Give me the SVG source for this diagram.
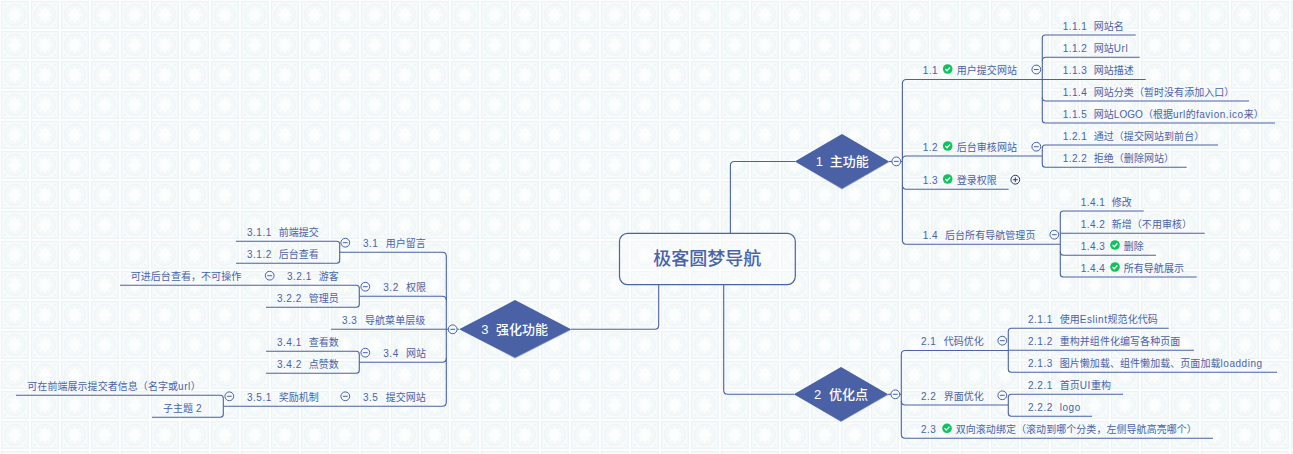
<svg xmlns="http://www.w3.org/2000/svg" width="1293" height="454" viewBox="0 0 1293 454">
<style>
text{font-family:"Liberation Sans","Noto Sans CJK SC",sans-serif;font-size:10px;fill:#4a62a8;letter-spacing:.5px}
.t{letter-spacing:.05px}
.l{letter-spacing:.55px}
.c{fill:none;stroke:#4a62a8;stroke-width:1.1}
.root{font-size:18px;font-weight:500;text-anchor:middle;letter-spacing:0}
.main{font-size:13px;font-weight:500;fill:#fff;letter-spacing:0}
.d{fill:#4a61a6}
.e{fill:#98a6cf}
.rb{fill:rgba(255,255,255,.3);stroke:#4a62a8;stroke-width:1.2}
</style>
<defs>
<pattern id="tile" width="30" height="30" patternUnits="userSpaceOnUse">
<rect width="30" height="30" fill="#fff"/>
<rect x="1.6" y="1.6" width="26.6" height="26.6" fill="#f8fbfb" stroke="#edf4f6" stroke-width="1.4"/>
<circle cx="14.9" cy="14.9" r="10.6" fill="#f3f8f9" stroke="#ecf3f5" stroke-width=".9"/>
<path d="M14.9 5.8l1.8 3.9 4.1-2-2 4.1 3.9 3.1-3.9 3.1 2 4-4.1-2-1.8 3.9-1.8-3.9-4.1 2 2-4-3.9-3.1 3.9-3.1-2-4.1 4.1 2z" fill="#fcfdfd"/>
<path d="M4 4h1.6v1.6H4zM24.2 4h1.6v1.6h-1.6zM4 24.2h1.6v1.6H4zM24.2 24.2h1.6v1.6h-1.6z" fill="#e9f1f3"/>
</pattern>
<g id="m"><circle r="4.4" fill="#f6f9fb" stroke="#4a62a8" stroke-width="1"/><path d="M-2.4 0H2.4" stroke="#4a62a8" stroke-width="1"/></g>
<g id="p"><circle r="4.4" fill="#f6f9fb" stroke="#2f3a5f" stroke-width="1"/><path d="M-2.4 0H2.4M0-2.4V2.4" stroke="#2f3a5f" stroke-width="1"/></g>
<g id="k"><circle r="4.8" fill="#0bc45c"/><path d="M-2.4 0L-.7 1.8 2.4-1.5" fill="none" stroke="#fff" stroke-width="1.3"/></g>
</defs>
<rect width="1293" height="454" fill="url(#tile)"/>
<g id="connectors">
<path class="c" d="M730.4 233V165.5Q730.4 161.5 734.4 161.5H795"/>
<path class="c" d="M723.7 285V390.3Q723.7 394.3 727.7 394.3H794"/>
<path class="c" d="M658.7 285V325.3Q658.7 329.3 654.7 329.3H571"/>
<path class="c" d="M889 161.5H902.4"/>
<path class="c" d="M1145.7 79.5H906.4Q902.4 79.5 902.4 83.5V240.3Q902.4 244.3 906.4 244.3H1060"/>
<path class="c" d="M902.4 160Q902.4 156 906.4 156H1042"/>
<path class="c" d="M902.4 185.3Q902.4 189.3 906.4 189.3H1008.7"/>
<path class="c" d="M1135.7 35H1045.3Q1042.3 35 1042.3 38V120Q1042.3 123 1045.3 123H1275"/>
<path class="c" d="M1042.3 61Q1042.3 57.3 1046 57.3H1139.7"/>
<path class="c" d="M1042.3 97.5Q1042.3 101 1046 101H1249"/>
<path class="c" d="M1218 145H1045.3Q1042.3 145 1042.3 148V164.3Q1042.3 167.3 1045.3 167.3H1186.7"/>
<path class="c" d="M1143.7 211H1063.3Q1060.3 211 1060.3 214V274Q1060.3 277 1063.3 277H1196.7"/>
<path class="c" d="M1060.3 233.3H1204.7"/>
<path class="c" d="M1060.3 251.8Q1060.3 255.3 1064 255.3H1156"/>
<path class="c" d="M888 394.3H901.3"/>
<path class="c" d="M1008.3 350.5H905.3Q901.3 350.5 901.3 354.5V434.3Q901.3 438.3 905.3 438.3H1213"/>
<path class="c" d="M901.3 401Q901.3 405 905.3 405H1008.3"/>
<path class="c" d="M1168.7 328.3H1011.3Q1008.3 328.3 1008.3 331.3V369.3Q1008.3 372.3 1011.3 372.3H1277"/>
<path class="c" d="M1008.3 350.3H1194"/>
<path class="c" d="M1123 394.3H1011.3Q1008.3 394.3 1008.3 397.3V413.3Q1008.3 416.3 1011.3 416.3H1092"/>
<path class="c" d="M459 329.3H331"/>
<path class="c" d="M236 241.3H336.7Q339.7 241.3 339.7 244.3V260.3Q339.7 263.3 336.7 263.3H236"/>
<path class="c" d="M339.7 252.3H442.3Q446.3 252.3 446.3 256.3V402.3Q446.3 406.3 442.3 406.3H223.3"/>
<path class="c" d="M359.3 296.3H442.3Q446.3 296.3 446.3 300.3"/>
<path class="c" d="M120 285.3H356.3Q359.3 285.3 359.3 288.3V304.3Q359.3 307.3 356.3 307.3H266"/>
<path class="c" d="M359.3 362.3H442.3Q446.3 362.3 446.3 358.3"/>
<path class="c" d="M266 351.3H356.3Q359.3 351.3 359.3 354.3V370.3Q359.3 373.3 356.3 373.3H266"/>
<path class="c" d="M16 395.3H220.3Q223.3 395.3 223.3 398.3V414.3Q223.3 417.3 220.3 417.3H152"/>
</g>
<g id="root"><rect class="rb" x="619.5" y="233.4" width="175.8" height="51.2" rx="8"/><text class="root" x="707.3" y="264.5">极客圆梦导航</text></g>
<g id="n1"><path class="e" d="M795 161.5L842 134.6 889.5 161.9 842 189.4z"/><path class="d" d="M795 161.5L842 134 889 161.5 842 188.6z"/><text class="main" x="815.7" y="166">1<tspan x="829.7">主功能</tspan></text><use href="#m" x="896.3" y="161.4"/></g>
<g id="n2"><path class="e" d="M794 394.3L841 367.6 888.5 394.7 841 422z"/><path class="d" d="M794 394.3L841 367 888 394.3 841 421.2z"/><text class="main" x="814" y="399">2<tspan x="829">优化点</tspan></text><use href="#m" x="895.3" y="394.3"/></g>
<g id="n3"><path class="e" d="M459.3 329.3L515 300.6 571.5 329.7 515 358.4z"/><path class="d" d="M459.3 329.3L515 300 571 329.3 515 357.6z"/><text class="main" x="481.3" y="334">3<tspan x="496">强化功能</tspan></text><use href="#m" x="452.7" y="329.3"/></g>
<g id="n1-1"><text x="922.7" y="73.5">1.1<tspan class="t" x="956.7">用户提交网站</tspan></text><use href="#k" x="947.7" y="69"/><use href="#m" x="1036.3" y="69.5"/></g>
<g id="n1-1-1"><text x="1062.7" y="29.5">1.1.1<tspan class="t" x="1093.7">网站名</tspan></text></g>
<g id="n1-1-2"><text x="1062.7" y="51.8">1.1.2<tspan class="t" x="1093.7">网站<tspan class="l">Url</tspan></tspan></text></g>
<g id="n1-1-3"><text x="1062.7" y="73.5">1.1.3<tspan class="t" x="1093.7">网站描述</tspan></text></g>
<g id="n1-1-4"><text x="1062.7" y="95.5">1.1.4<tspan class="t" x="1093.7">网站分类（暂时没有添加入口）</tspan></text></g>
<g id="n1-1-5"><text x="1062.7" y="117.5">1.1.5<tspan class="t" x="1093.7">网站LOGO（根据<tspan class="l">url</tspan>的<tspan class="l">favion.ico</tspan>来）</tspan></text></g>
<g id="n1-2"><text x="922.7" y="150.5">1.2<tspan class="t" x="956.7">后台审核网站</tspan></text><use href="#k" x="947.7" y="146"/><use href="#m" x="1036.3" y="146.7"/></g>
<g id="n1-2-1"><text x="1062.7" y="139.5">1.2.1<tspan class="t" x="1093.7">通过（提交网站到前台）</tspan></text></g>
<g id="n1-2-2"><text x="1062.7" y="161.8">1.2.2<tspan class="t" x="1093.7">拒绝（删除网站）</tspan></text></g>
<g id="n1-3"><text x="922.7" y="183.5">1.3<tspan class="t" x="956.7">登录权限</tspan></text><use href="#k" x="947.7" y="179"/><use href="#p" x="1015.3" y="179.7"/></g>
<g id="n1-4"><text x="922.7" y="238.8">1.4<tspan class="t" x="945">后台所有导航管理页</tspan></text><use href="#m" x="1054.3" y="234.7"/></g>
<g id="n1-4-1"><text x="1080.7" y="205.5">1.4.1<tspan class="t" x="1111.7">修改</tspan></text></g>
<g id="n1-4-2"><text x="1080.7" y="227.8">1.4.2<tspan class="t" x="1111.7">新增（不用审核）</tspan></text></g>
<g id="n1-4-3"><text x="1080.7" y="249.8">1.4.3<tspan class="t" x="1123.7">删除</tspan></text><use href="#k" x="1115" y="245"/></g>
<g id="n1-4-4"><text x="1080.7" y="271.5">1.4.4<tspan class="t" x="1123.7">所有导航展示</tspan></text><use href="#k" x="1115" y="267"/></g>
<g id="n2-1"><text x="921" y="345">2.1<tspan class="t" x="943.7">代码优化</tspan></text><use href="#m" x="1002.3" y="340.7"/></g>
<g id="n2-1-1"><text x="1028" y="322.8">2.1.1<tspan class="t" x="1059.7">使用<tspan class="l">Eslint</tspan>规范化代码</tspan></text></g>
<g id="n2-1-2"><text x="1028" y="344.8">2.1.2<tspan class="t" x="1059.7">重构并组件化编写各种页面</tspan></text></g>
<g id="n2-1-3"><text x="1028" y="366.8">2.1.3<tspan class="t" x="1059.7">图片懒加载、组件懒加载、页面加载<tspan class="l">loadding</tspan></tspan></text></g>
<g id="n2-2"><text x="921" y="399.5">2.2<tspan class="t" x="943.7">界面优化</tspan></text><use href="#m" x="1002.3" y="395.3"/></g>
<g id="n2-2-1"><text x="1028" y="388.8">2.2.1<tspan class="t" x="1059.7">首页<tspan class="l">UI</tspan>重构</tspan></text></g>
<g id="n2-2-2"><text x="1028" y="410.8">2.2.2<tspan class="l" x="1059.7">logo</tspan></text></g>
<g id="n2-3"><text x="921" y="432.8">2.3<tspan class="t" x="955.7">双向滚动绑定（滚动到哪个分类，左侧导航高亮哪个）</tspan></text><use href="#k" x="947" y="428.3"/></g>
<g id="n3-1"><text x="363" y="246.8">3.1<tspan class="t" x="385.7">用户留言</tspan></text><use href="#m" x="345.3" y="242.7"/></g>
<g id="n3-1-1"><text x="247" y="235.8">3.1.1<tspan class="t" x="278.7">前端提交</tspan></text></g>
<g id="n3-1-2"><text x="247" y="257.8">3.1.2<tspan class="t" x="278.7">后台查看</tspan></text></g>
<g id="n3-2"><text x="383.3" y="290.8">3.2<tspan class="t" x="406">权限</tspan></text><use href="#m" x="365.3" y="286.7"/></g>
<g id="n3-2-1"><text x="287" y="279.8">3.2.1<tspan class="t" x="318.7">游客</tspan></text><use href="#m" x="269.7" y="275.7"/></g>
<g id="n3-2-1-1"><text class="t" x="130.7" y="279.8">可进后台查看，不可操作</text></g>
<g id="n3-2-2"><text x="277" y="301.8">3.2.2<tspan class="t" x="308.7">管理员</tspan></text></g>
<g id="n3-3"><text x="342" y="323.8">3.3<tspan class="t" x="365">导航菜单层级</tspan></text></g>
<g id="n3-4"><text x="383.3" y="356.8">3.4<tspan class="t" x="406">网站</tspan></text><use href="#m" x="365.3" y="352.7"/></g>
<g id="n3-4-1"><text x="277" y="345.8">3.4.1<tspan class="t" x="308.7">查看数</tspan></text></g>
<g id="n3-4-2"><text x="277" y="367.8">3.4.2<tspan class="t" x="308.7">点赞数</tspan></text></g>
<g id="n3-5"><text x="363" y="400.8">3.5<tspan class="t" x="385.7">提交网站</tspan></text><use href="#m" x="345.3" y="396.3"/></g>
<g id="n3-5-1"><text x="247" y="400.8">3.5.1<tspan class="t" x="278.7">奖励机制</tspan></text><use href="#m" x="229.3" y="396.3"/></g>
<g id="n3-5-1-1"><text class="t" x="27.3" y="389.8">可在前端展示提交者信息（名字或<tspan class="l">url</tspan>）</text></g>
<g id="n3-5-1-2"><text class="t" x="163" y="411.8">子主题 <tspan class="l">2</tspan></text></g>
</svg>
